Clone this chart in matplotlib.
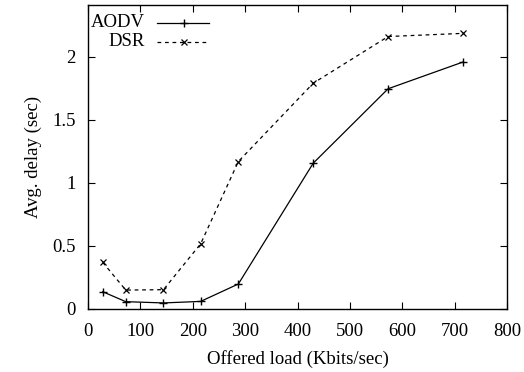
import matplotlib
matplotlib.use("Agg")
import matplotlib.pyplot as plt
from matplotlib.ticker import FuncFormatter

plt.rcParams['font.family'] = ['Liberation Serif', 'DejaVu Serif']

# Offered load (Kbits/sec)
load = [28, 72, 144, 215, 287, 430, 573, 716]
# Average end-to-end delay (sec)
aodv_delay = [0.137, 0.058, 0.048, 0.060, 0.198, 1.156, 1.746, 1.958]
dsr_delay = [0.37, 0.15, 0.153, 0.516, 1.169, 1.79, 2.16, 2.185]

x_ticks = [0, 100, 200, 300, 400, 500, 600, 700, 800]
y_ticks = [0, 0.5, 1, 1.5, 2]
series_names = ["AODV", "DSR"]

fig = plt.figure(figsize=(5.24, 3.72), dpi=100)
ax = fig.add_axes([0.168, 0.1694, 0.7996, 0.8172])

lw = 0.9
fs = 13.5
ax.plot(load, aodv_delay, color='black', lw=lw, marker='+', ms=5.5, mew=1.0)
ax.plot(load, dsr_delay, color='black', lw=lw, ls=(0, (3, 3)), marker='x', ms=4.5, mew=0.9)

ax.set_xlim(0, 800)
ax.set_ylim(0, 2.41)
ax.set_xticks(x_ticks)
ax.set_yticks(y_ticks)
ax.yaxis.set_major_formatter(FuncFormatter(lambda v, p: f"{v:g}"))
ax.tick_params(direction='in', length=5, width=0.8, top=True, right=True, labelsize=fs)
ax.tick_params(axis='x', pad=10)
ax.tick_params(axis='y', pad=9)
for s in ax.spines.values():
    s.set_linewidth(1.0)

ax.set_xlabel("Offered load (Kbits/sec)", fontsize=fs, labelpad=7)
ax.set_ylabel("Avg. delay (sec)", fontsize=fs, labelpad=7)

# key in the upper-left corner: label right-aligned, sample line after it
key_rows = [(0.942, '-', '+', 5.5, 1.0), (0.879, (0, (3, 3)), 'x', 4.5, 0.9)]
for name, (yk, ls, mk, ms, mew) in zip(series_names, key_rows):
    ax.text(0.136, yk, name, transform=ax.transAxes, ha='right', va='center', fontsize=fs)
    ax.plot([0.165, 0.289], [yk, yk], transform=ax.transAxes, color='black', lw=lw, ls=ls)
    ax.plot([0.229], [yk], transform=ax.transAxes, color='black', marker=mk, ms=ms, mew=mew)

fig.savefig("out.png", dpi=100)
